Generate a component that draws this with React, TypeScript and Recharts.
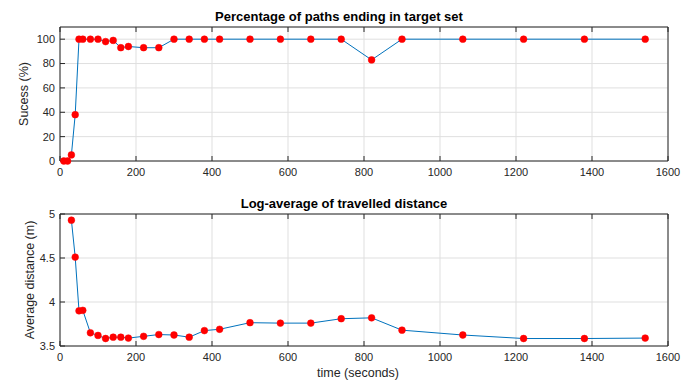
import { CartesianGrid, Line, LineChart, XAxis, YAxis } from "recharts";

const times = [
  10, 20, 30, 40, 50, 60, 80, 100, 120, 140, 160, 180, 220, 260, 300, 340,
  380, 420, 500, 580, 660, 740, 820, 900, 1060, 1220, 1380, 1540,
];
const success = [
  0, 0, 5, 38, 100, 100, 100, 100, 98, 99, 93, 94, 93, 93, 100, 100, 100,
  100, 100, 100, 100, 100, 83, 100, 100, 100, 100, 100,
];
const distance = [
  null, null, 4.93, 4.51, 3.9, 3.905, 3.65, 3.62, 3.585, 3.6, 3.6, 3.59, 3.61,
  3.63, 3.625, 3.6, 3.675, 3.69, 3.765, 3.76, 3.76, 3.81, 3.82, 3.68, 3.625,
  3.585, 3.585, 3.59,
];
const xTicks = [0, 200, 400, 600, 800, 1000, 1200, 1400, 1600];
const successTicks = [0, 20, 40, 60, 80, 100];
const distanceTicks = [3.5, 4, 4.5, 5];

const successData = times.map((t, i) => ({ t, v: success[i] }));
const distanceData = times.map((t, i) => ({ t, v: distance[i] }));

const FONT = '"Liberation Sans", Arial, Helvetica, sans-serif';
const AXIS = "#262626";
const GRID = "#dfdfdf";
const tickStyle = { fontSize: 11, fill: AXIS, fontFamily: FONT };
// box sides: tick marks only, no labels
const noLabel = () => <g />;

function Panel({
  data,
  domain,
  yTicks,
  yLabel,
  labelDx,
  height,
  top,
  bottomAxis,
  xLabel,
}: {
  data: { t: number; v: number | null }[];
  domain: [number, number];
  yTicks: number[];
  yLabel: string;
  labelDx: number;
  height: number;
  top: number;
  bottomAxis: number;
  xLabel?: string;
}) {
  return (
    <LineChart
      width={691}
      height={height}
      data={data}
      margin={{ top, right: 22, left: 0, bottom: 0 }}
    >
      <CartesianGrid xAxisId="b" yAxisId="l" stroke={GRID} strokeWidth={1} />
      <XAxis
        xAxisId="b"
        dataKey="t"
        type="number"
        domain={[0, 1600]}
        ticks={xTicks}
        interval={0}
        height={bottomAxis}
        stroke={AXIS}
        tickSize={-5}
        tickMargin={12}
        tick={tickStyle}
        label={
          xLabel
            ? {
                value: xLabel,
                position: "insideBottom",
                offset: 4,
                dx: -6,
                style: { fontSize: 12.5, fill: AXIS, fontFamily: FONT },
              }
            : undefined
        }
      />
      <XAxis
        xAxisId="t"
        orientation="top"
        dataKey="t"
        type="number"
        domain={[0, 1600]}
        ticks={xTicks}
        interval={0}
        height={1}
        stroke={AXIS}
        tickSize={-5}
        tick={noLabel}
      />
      <YAxis
        yAxisId="l"
        type="number"
        domain={domain}
        ticks={yTicks}
        interval={0}
        width={60}
        stroke={AXIS}
        tickSize={-5}
        tickMargin={10}
        tick={tickStyle}
        label={{
          value: yLabel,
          angle: -90,
          position: "center",
          dx: labelDx,
          style: { fontSize: 12.5, fill: AXIS, fontFamily: FONT, textAnchor: "middle" },
        }}
      />
      <YAxis
        yAxisId="r"
        orientation="right"
        type="number"
        domain={domain}
        ticks={yTicks}
        interval={0}
        width={1}
        stroke={AXIS}
        tickSize={-5}
        tick={noLabel}
      />
      <Line
        xAxisId="b"
        yAxisId="l"
        dataKey="v"
        type="linear"
        stroke="#0072BD"
        strokeWidth={1}
        dot={{ r: 3.4, fill: "#ff0000", stroke: "#ff0000", strokeWidth: 0.5 }}
        isAnimationActive={false}
      />
    </LineChart>
  );
}

const titleStyle = (topPx: number, center: number): React.CSSProperties => ({
  position: "absolute",
  left: center - 200,
  width: 400,
  top: topPx,
  textAlign: "center",
  fontFamily: FONT,
  fontWeight: "bold",
  fontSize: 13,
  lineHeight: "14px",
  color: "#000",
});

export default function App() {
  return (
    <div style={{ position: "relative", width: 691, height: 381, background: "#fff" }}>
      <style>{"body{margin:0}"}</style>
      <div style={{ position: "absolute", left: 0, top: 0 }}>
        <Panel
          data={successData}
          domain={[0, 110]}
          yTicks={successTicks}
          yLabel="Sucess (%)"
          labelDx={-6}
          height={190}
          top={26}
          bottomAxis={29}
        />
      </div>
      <div style={{ position: "absolute", left: 0, top: 190 }}>
        <Panel
          data={distanceData}
          domain={[3.5, 5]}
          yTicks={distanceTicks}
          yLabel="Average distance (m)"
          labelDx={0}
          height={191}
          top={23}
          bottomAxis={35}
          xLabel="time (seconds)"
        />
      </div>
      <div style={titleStyle(10, 339)}>Percentage of paths ending in target set</div>
      <div style={titleStyle(197, 344)}>Log-average of travelled distance</div>
    </div>
  );
}
